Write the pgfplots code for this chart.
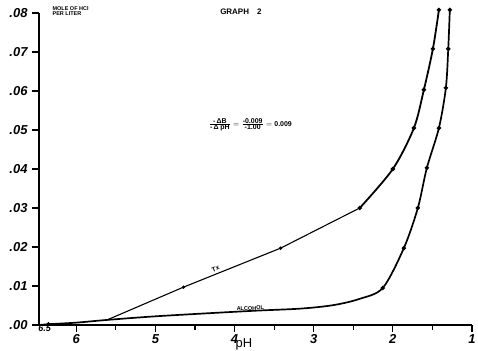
\documentclass[border=0pt]{standalone}
\usepackage{fontspec}
\setmainfont{Liberation Sans}
\usepackage{pgfplots}
\pgfplotsset{compat=1.18}
\usetikzlibrary{calc}
\begin{document}
\begin{tikzpicture}
\begin{axis}[
  scale only axis, width=433bp, height=312bp,
  xmin=1, xmax=6.47, x dir=reverse, ymin=0, ymax=0.08,
  scaled y ticks=false,
  axis x line=bottom, axis y line=left,
  axis line style={line width=1.4pt,-},
  xtick={6,5,4,3,2,1},
  minor xtick={5.5,4.5,3.5,2.5,1.5},
  extra x ticks={6.40}, extra x tick labels={6.5},
  extra x tick style={major tick length=0pt, tick label style={font=\bfseries\itshape\fontsize{9}{9}\selectfont, yshift=2bp}},
  ytick={0,0.01,0.02,0.03,0.04,0.05,0.06,0.07,0.08},
  yticklabels={.00,.01,.02,.03,.04,.05,.06,.07,.08},
  tick align=outside, major tick length=7bp, minor tick length=5bp,
  tick style={line width=1.2pt, black},
  tick label style={font=\bfseries\itshape\fontsize{13}{13}\selectfont},
  xticklabel style={yshift=1bp},
  yticklabel style={xshift=-1bp},
  clip=false,
  /pgf/number format/assume math mode=true,
]
% Tx curve, lower straight part
\addplot[black, line width=1.1pt, mark=*, mark size=1.1pt, mark indices={2,3}] coordinates {
 (5.61,0.0013) (4.645,0.0097) (3.418,0.0197) (2.418,0.0300)
};
% Tx curve, upper part
\addplot[black, line width=1.8pt, smooth, tension=0.5, mark=*, mark size=1.2pt] coordinates {
 (2.418,0.0300) (2.0,0.0400) (1.734,0.0505) (1.608,0.0603) (1.494,0.0708) (1.418,0.0808)
};
% Alcohol curve
\addplot[black, line width=1.7pt, smooth, tension=0.5, mark=*, mark size=1.2pt, mark indices={2,10,11,12,13,14,15,16,17}] coordinates {
 (6.46,0.0000) (6.35,0.0002) (6.00,0.0006) (5.61,0.0013) (4.94,0.0023) (3.80,0.0036)
 (3.165,0.0042) (2.75,0.0051) (2.42,0.0067) (2.127,0.0095) (1.861,0.0197) (1.684,0.0300)
 (1.57,0.0403) (1.418,0.0505) (1.33,0.0608) (1.30,0.0708) (1.28,0.0808)
};
\node[anchor=north west, align=left, inner sep=0pt, font=\bfseries\fontsize{5.5}{5.5}\selectfont] at (axis cs:6.30,0.0818) {MOLE OF HCl\\PER LITER};
\node[font=\bfseries\fontsize{8}{8}\selectfont] at (axis cs:3.92,0.0803) {GRAPH\quad 2};
\node[font=\bfseries\fontsize{7}{7}\selectfont] at (axis cs:3.80,0.0513) {$\frac{\hbox{\bfseries -\,ΔB}}{\hbox{\bfseries -\,Δ pH}}=\frac{\hbox{\bfseries -0.009}}{\hbox{\bfseries -1.00}}=\hbox{\bfseries 0.009}$};
\node[rotate=22, font=\bfseries\fontsize{6.5}{6.5}\selectfont] at (axis cs:4.24,0.0144) {Tx};
\node[rotate=2, font=\bfseries\fontsize{5.5}{5.5}\selectfont, anchor=south, inner sep=0.5pt] at (axis cs:3.80,0.0036) {ALCOHOL};
\node[font=\fontsize{13}{13}\selectfont] at (axis cs:3.88,-0.0050) {pH};
\end{axis}
\pgfresetboundingbox
\path ($(current axis.south west)+(-39bp,-26bp)$) rectangle ($(current axis.north east)+(6bp,13bp)$);
\end{tikzpicture}
\end{document}
